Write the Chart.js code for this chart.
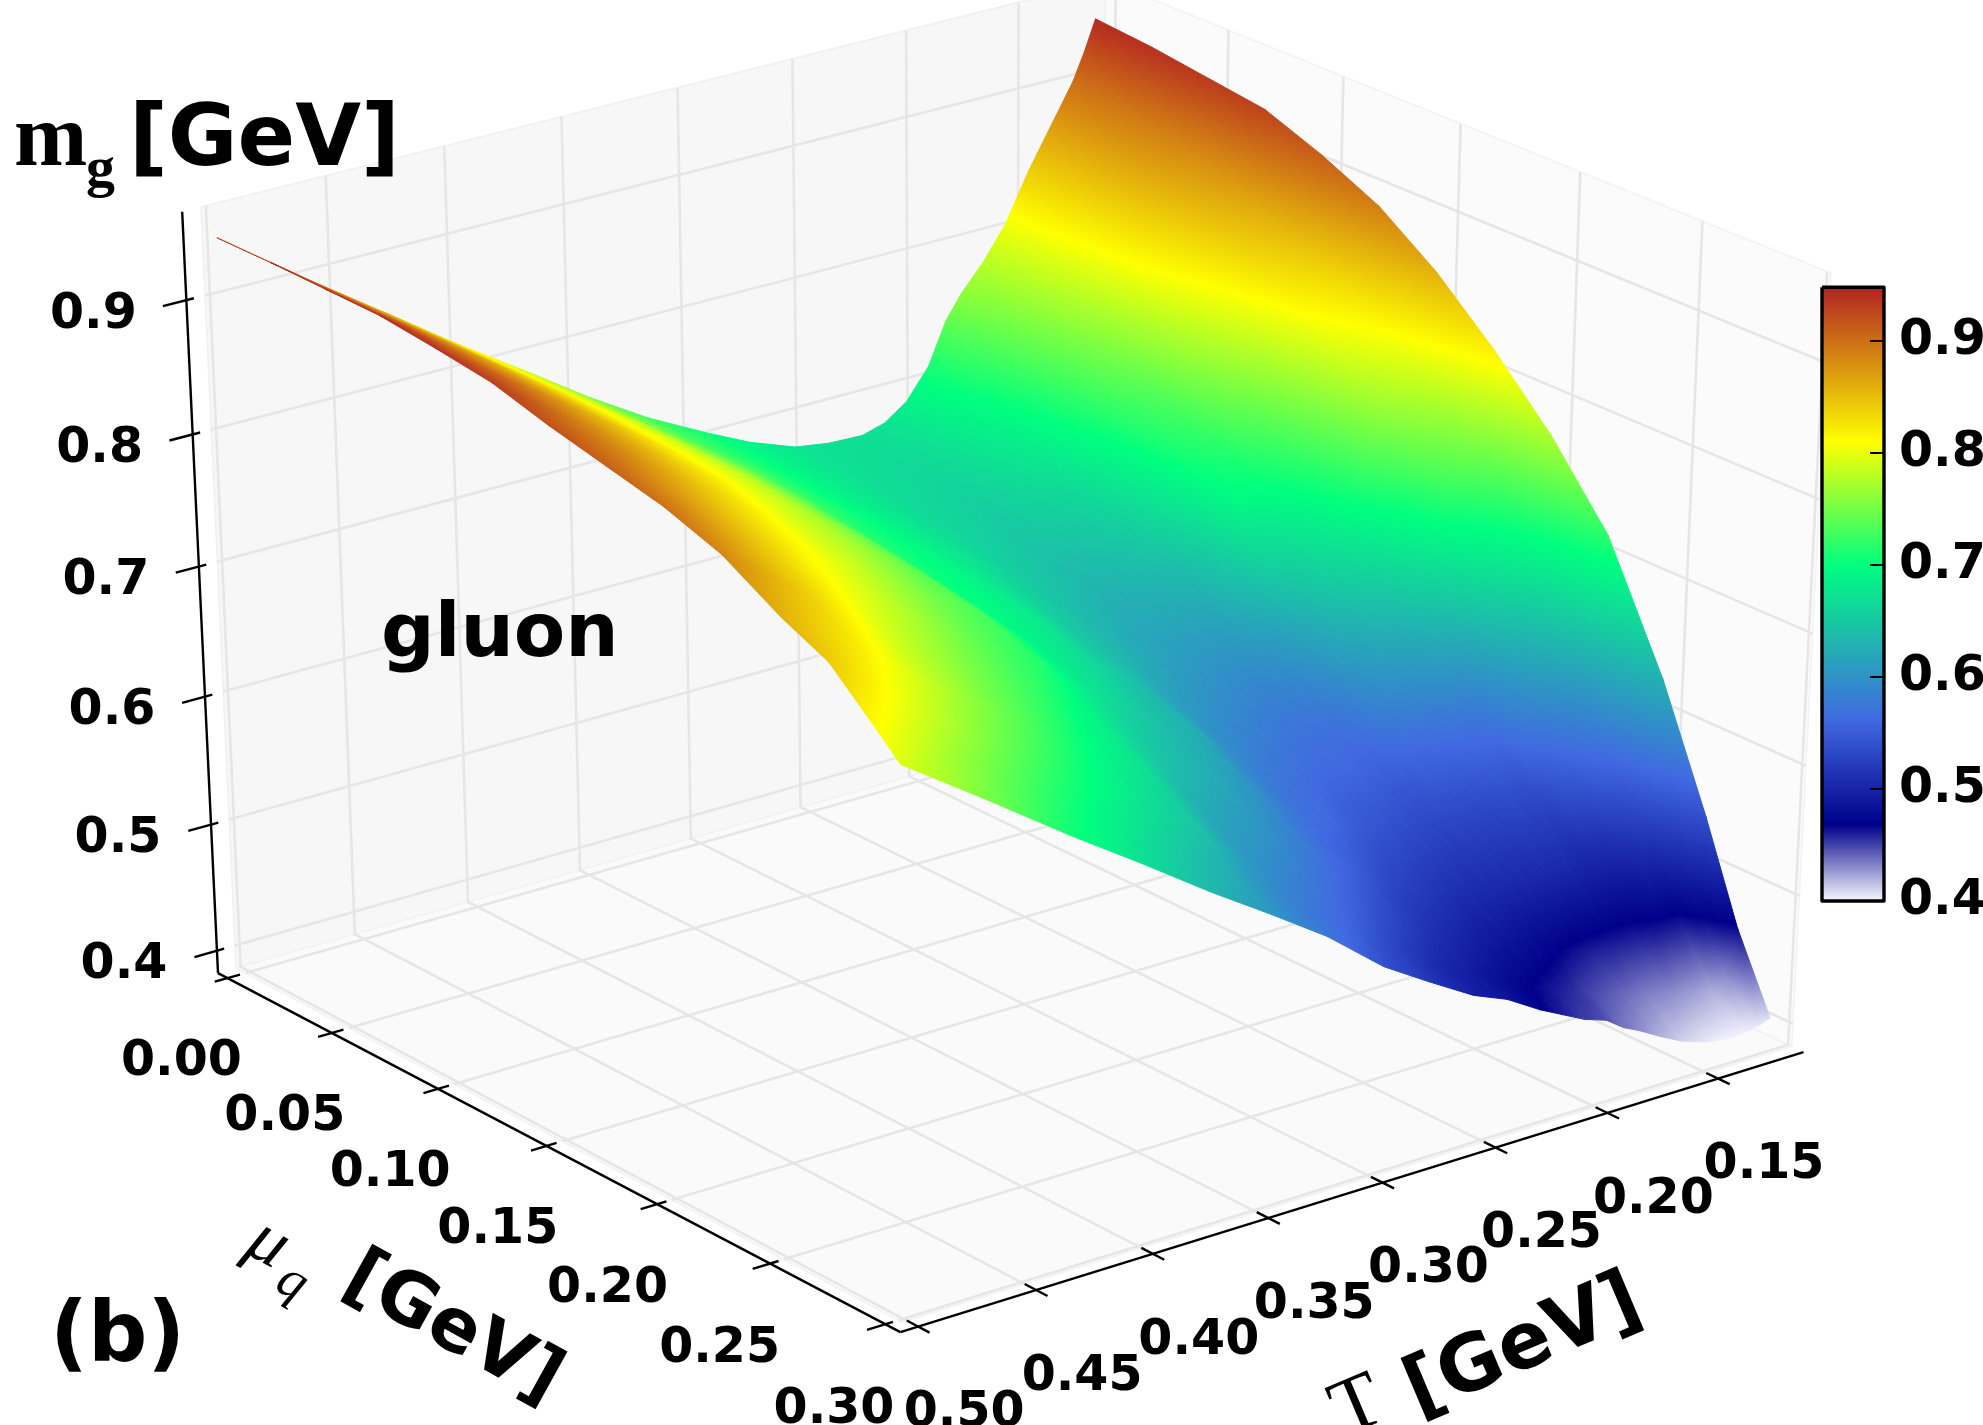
<!DOCTYPE html>
<html><head><meta charset="utf-8">
<style>html,body{margin:0;padding:0;background:#fff;overflow:hidden}canvas{display:block}</style>
<script src="https://cdn.jsdelivr.net/npm/chart.js@4/dist/chart.umd.js"></script>
</head><body><canvas id="c" width="1983" height="1425"></canvas>
<script>
// ---------- values ----------
const temperatures = [0.12,0.125,0.13,0.14,0.15,0.16,0.17,0.18,0.187,0.195,0.205,0.215,0.225,0.24,0.255,0.275,0.295,0.32,0.345,0.37,0.4,0.43,0.465,0.5];
const chemPotentials = [0,0.025,0.05,0.075,0.1,0.125,0.15,0.175,0.2,0.225,0.25,0.27,0.285,0.3];
const mgT120 = [.943,.939,.933,.927,.9105,.89,.859,.8195,.774,.718,.628,.539,.465,.408];
const mgT125 = [.92,.918,.91,.90,.88,.855,.82,.78,.72,.65,.57,.49,.43,.405];
const mgT130 = [.90,.895,.885,.87,.85,.825,.795,.75,.68,.60,.53,.465,.42,.403];
const mgT140 = [.87,.868,.86,.845,.825,.80,.77,.72,.63,.56,.505,.465,.425,.402];
const mgT150 = [.84,.835,.828,.81,.785,.755,.73,.67,.575,.535,.50,.46,.43,.405];
const mgT160 = [.805,.80,.79,.775,.75,.72,.69,.635,.57,.535,.505,.46,.432,.411];
const mgT170 = [.78,.77,.755,.735,.72,.70,.665,.62,.565,.53,.505,.46,.438,.42];
const mgT180 = [.76,.74,.725,.712,.705,.695,.635,.60,.56,.53,.505,.465,.445,.43];
const mgT187 = [.742,.715,.70,.685,.672,.65,.61,.578,.555,.53,.505,.47,.45,.436];
const mgT195 = [.71,.695,.68,.665,.65,.625,.60,.572,.555,.53,.505,.475,.457,.446];
const mgT205 = [.687,.68,.67,.655,.64,.62,.595,.572,.56,.535,.507,.482,.463,.452];
const mgT215 = [.675,.668,.66,.65,.635,.62,.60,.578,.56,.54,.512,.488,.47,.461];
const mgT225 = [.67,.664,.657,.648,.635,.62,.605,.585,.565,.545,.52,.497,.478,.47];
const mgT240 = [.671,.667,.662,.655,.645,.63,.615,.595,.575,.56,.53,.508,.492,.486];
const mgT255 = [.675,.672,.668,.663,.655,.643,.63,.61,.59,.57,.55,.525,.505,.497];
const mgT275 = [.688,.686,.683,.68,.675,.665,.652,.64,.625,.60,.575,.55,.53,.518];
const mgT295 = [.705,.703,.70,.697,.693,.688,.68,.665,.645,.625,.60,.575,.558,.54];
const mgT320 = [.728,.727,.726,.722,.715,.708,.70,.69,.675,.65,.62,.60,.585,.576];
const mgT345 = [.755,.755,.755,.754,.75,.745,.738,.73,.715,.69,.667,.645,.622,.606];
const mgT370 = [.785,.785,.785,.784,.782,.776,.768,.755,.74,.722,.697,.675,.652,.635];
const mgT400 = [.82,.82,.82,.818,.815,.81,.80,.79,.775,.755,.735,.71,.69,.672];
const mgT430 = [.857,.857,.857,.855,.852,.846,.837,.825,.81,.79,.772,.747,.725,.708];
const mgT465 = [.90,.90,.90,.898,.895,.888,.88,.868,.855,.84,.818,.795,.77,.752];
const mgT500 = [.945,.945,.944,.943,.938,.932,.92,.91,.90,.885,.86,.844,.82,.795];
const mgRows = [mgT120,mgT125,mgT130,mgT140,mgT150,mgT160,mgT170,mgT180,mgT187,mgT195,mgT205,mgT215,mgT225,mgT240,mgT255,mgT275,mgT295,mgT320,mgT345,mgT370,mgT400,mgT430,mgT465,mgT500];
const zTicks = [0.4,0.5,0.6,0.7,0.8,0.9];
const zTickLabels = ['0.4','0.5','0.6','0.7','0.8','0.9'];
const tTicks = [0.5,0.45,0.4,0.35,0.3,0.25,0.2,0.15];
const tTickLabels = ['0.50','0.45','0.40','0.35','0.30','0.25','0.20','0.15'];
const muTicks = [0,0.05,0.1,0.15,0.2,0.25,0.3];
const muTickLabels = ['0.00','0.05','0.10','0.15','0.20','0.25','0.30'];
const cmapValues = [0.4,0.468,0.562,0.7,0.81,0.948];
const cmapColors = [[248,248,255],[0,0,139],[65,105,225],[0,255,127],[255,255,0],[178,34,34]];

// ---------- camera ----------
const W=1983,H=1425;
const uOf=T=>(0.502-T)/0.391, vOf=m=>0.015+3.267*m, wOf=z=>(z-0.382)/0.583;
function proj(u,v,w){
  const D=1+0.04*u-0.06*v-0.045*w;
  return {x:(236+908*u+611.9*v-44*w)/D, y:(968-217.1*u+274.7*v-770.3*w)/D};
}
const P=(T,m,z)=>proj(uOf(T),vOf(m),wOf(z));

// ---------- colour map ----------
function cmap(val){
  const n=cmapValues.length;
  if(val<=cmapValues[0])return cmapColors[0];
  if(val>=cmapValues[n-1])return cmapColors[n-1];
  for(let i=0;i<n-1;i++){
    if(val<=cmapValues[i+1]){
      const t=(val-cmapValues[i])/(cmapValues[i+1]-cmapValues[i]),a=cmapColors[i],b=cmapColors[i+1];
      return [a[0]+(b[0]-a[0])*t,a[1]+(b[1]-a[1])*t,a[2]+(b[2]-a[2])*t];
    }
  }
}
const css=c=>`rgb(${Math.round(c[0])},${Math.round(c[1])},${Math.round(c[2])})`;
const gctx=document.createElement('canvas').getContext('2d');
function linGrad(x0,y0,x1,y1,lo,hi){
  const g=gctx.createLinearGradient(x0,y0,x1,y1);
  g.addColorStop(0,css(cmap(lo)));
  cmapValues.forEach(s=>{if(s>lo&&s<hi)g.addColorStop((s-lo)/(hi-lo),css(cmap(s)));});
  g.addColorStop(1,css(cmap(hi)));
  return g;
}
function triPaint(p,val){
  const ax=p[1].x-p[0].x,ay=p[1].y-p[0].y,bx=p[2].x-p[0].x,by=p[2].y-p[0].y;
  const det=ax*by-ay*bx;
  const lo=Math.min(...val),hi=Math.max(...val);
  if(Math.abs(det)<1e-3||hi-lo<1e-5)return css(cmap((val[0]+val[1]+val[2])/3));
  const da=val[1]-val[0],db=val[2]-val[0];
  const gx=(da*by-db*ay)/det,gy=(db*ax-da*bx)/det,g2=gx*gx+gy*gy;
  if(g2<1e-14)return css(cmap((lo+hi)/2));
  const at=v=>({x:p[0].x+gx*(v-val[0])/g2,y:p[0].y+gy*(v-val[0])/g2});
  const s=at(lo),e=at(hi);
  return linGrad(s.x,s.y,e.x,e.y,lo,hi);
}

// ---------- datasets ----------
const ds=[];
const base={showLine:true,pointRadius:0,pointHoverRadius:0,tension:0,fill:false};
function addLine(pts,color,width){ds.push({...base,data:pts,borderColor:color,borderWidth:width,borderCapStyle:'butt'});}
function addPoly(pts,fillc,edge,width){ds.push({...base,data:[...pts,pts[0]],fill:'shape',backgroundColor:fillc,borderColor:edge,borderWidth:width,borderJoinStyle:'round'});}

// panes
const c=(u,v,w)=>proj(u,v,w);
addPoly([c(0,0,0),c(1,0,0),c(1,0,1),c(0,0,1)],'#f7f7f7','#f0f0f0',1.5);
addPoly([c(1,0,0),c(1,1,0),c(1,1,1),c(1,0,1)],'#fbfbfb','#f2f2f2',1.5);
addPoly([c(0,0,0),c(1,0,0),c(1,1,0),c(0,1,0)],'#fafafa','#f2f2f2',1.5);
// grid lines
const GC='#e6e6e6',GW=2.6;
zTicks.forEach(z=>{const w=wOf(z);addLine([c(0,0,w),c(1,0,w),c(1,1,w)],GC,GW);});
tTicks.forEach(T=>{const u=uOf(T);addLine([c(u,0,1),c(u,0,0),c(u,1,0)],GC,GW);});
muTicks.forEach(m=>{const v=vOf(m);addLine([c(0,v,0),c(1,v,0),c(1,v,1)],GC,GW);});

// surface, far cells first
for(let i=0;i<temperatures.length-1;i++)for(let j=0;j<chemPotentials.length-1;j++){
  const q=[[i,j],[i+1,j],[i+1,j+1],[i,j+1]];
  const pts=q.map(([a,b])=>P(temperatures[a],chemPotentials[b],mgRows[a][b]));
  const val=q.map(([a,b])=>mgRows[a][b]);
  [[0,1,2],[0,2,3]].forEach(t=>{
    const tp=t.map(k=>pts[k]),tv=t.map(k=>val[k]);
    const paint=triPaint(tp,tv);
    addPoly(tp,paint,paint,1);
  });
}

// axes
const AX='#000',AW=2.4;
addLine([c(-0.02,0,0),c(-0.02,0,1)],AX,AW);
addLine([c(-0.02,0,0),c(-0.014,1.016,0)],AX,AW);
addLine([c(-0.014,1.016,0),c(1,1.016,0)],AX,AW);
zTicks.forEach(z=>{const w=wOf(z);addLine([c(-0.045,0,w),c(-0.012,0,w)],AX,AW);});
muTicks.forEach(m=>{const v=vOf(m);addLine([c(-0.034,v,0),c(-0.006,v,0)],AX,AW);});
tTicks.forEach(T=>{const u=uOf(T);addLine([c(u,1.0,0),c(u,1.032,0)],AX,AW);});

// colour bar
const cbY=v=>901-(v-0.4)*1120;
const cbL=1822,cbR=1884,cbLo=cmapValues[0],cbHi=cmapValues[cmapValues.length-1];
addPoly([{x:cbL,y:cbY(cbHi)},{x:cbR,y:cbY(cbHi)},{x:cbR,y:cbY(cbLo)},{x:cbL,y:cbY(cbLo)}],
  linGrad(0,cbY(cbLo),0,cbY(cbHi),cbLo,cbHi),'#000',3.4);
zTicks.forEach(z=>addLine([{x:cbR-14,y:cbY(z)},{x:cbR,y:cbY(z)}],AX,2));

ds.forEach((d,i)=>{d.order=-i;});

// ---------- text ----------
const SANS='"DejaVu Sans"',SERIF='"Liberation Serif"';
function put(ctx,s,x,y,font,opt={}){
  ctx.save();ctx.translate(x,y);if(opt.rot)ctx.rotate(opt.rot);
  ctx.font=font;ctx.fillStyle='#000';ctx.textAlign=opt.align||'center';ctx.textBaseline=opt.base||'middle';
  ctx.fillText(s,0,0);ctx.restore();
}
const textPlugin={id:'labels',afterDatasetsDraw(ch){
  const x=ch.ctx;const F=`bold 49px ${SANS}`;
  zTicks.forEach((z,i)=>{const p=c(-0.02,0,wOf(z));put(x,zTickLabels[i],p.x-93,p.y+15,F);});
  muTicks.forEach((m,i)=>{const p=c(-0.02,vOf(m),0);put(x,muTickLabels[i],p.x-46,p.y+84,F);});
  tTicks.forEach((T,i)=>{const p=c(uOf(T),1.016,0);put(x,tTickLabels[i],p.x+46,p.y+87,F);});
  zTicks.forEach((z,i)=>put(x,zTickLabels[i],1899,cbY(z),F,{align:'left'}));
  put(x,'m',14,165,`bold 88px ${SERIF}`,{align:'left',base:'alphabetic'});
  put(x,'g',86,186,`bold 58px ${SERIF}`,{align:'left',base:'alphabetic'});
  put(x,'[GeV]',129,165,`bold 85px ${SANS}`,{align:'left',base:'alphabetic'});
  put(x,'gluon',381,656,`bold 75px ${SANS}`,{align:'left',base:'alphabetic'});
  put(x,'(b)',50,1361,`bold 83px ${SANS}`,{align:'left',base:'alphabetic'});
  const r1=29*Math.PI/180;
  put(x,'μ',268,1244,`italic 72px ${SERIF}`,{rot:r1});
  put(x,'q',292,1283,`italic 54px ${SERIF}`,{rot:r1});
  put(x,'[GeV]',452,1330,`bold 74px ${SANS}`,{rot:r1});
  const r2=-23*Math.PI/180;
  put(x,'T',1358,1408,`80px ${SERIF}`,{rot:r2});
  put(x,'[GeV]',1524,1348,`bold 78px ${SANS}`,{rot:r2});
}};

new Chart(document.getElementById('c'),{
  type:'scatter',
  data:{datasets:ds},
  plugins:[textPlugin],
  options:{
    responsive:false,animation:false,devicePixelRatio:1,
    layout:{padding:0},
    plugins:{legend:{display:false},tooltip:{enabled:false},title:{display:false}},
    events:[],
    scales:{
      x:{type:'linear',min:0,max:W,display:false},
      y:{type:'linear',min:0,max:H,reverse:true,display:false}
    }
  }
});
</script></body></html>
